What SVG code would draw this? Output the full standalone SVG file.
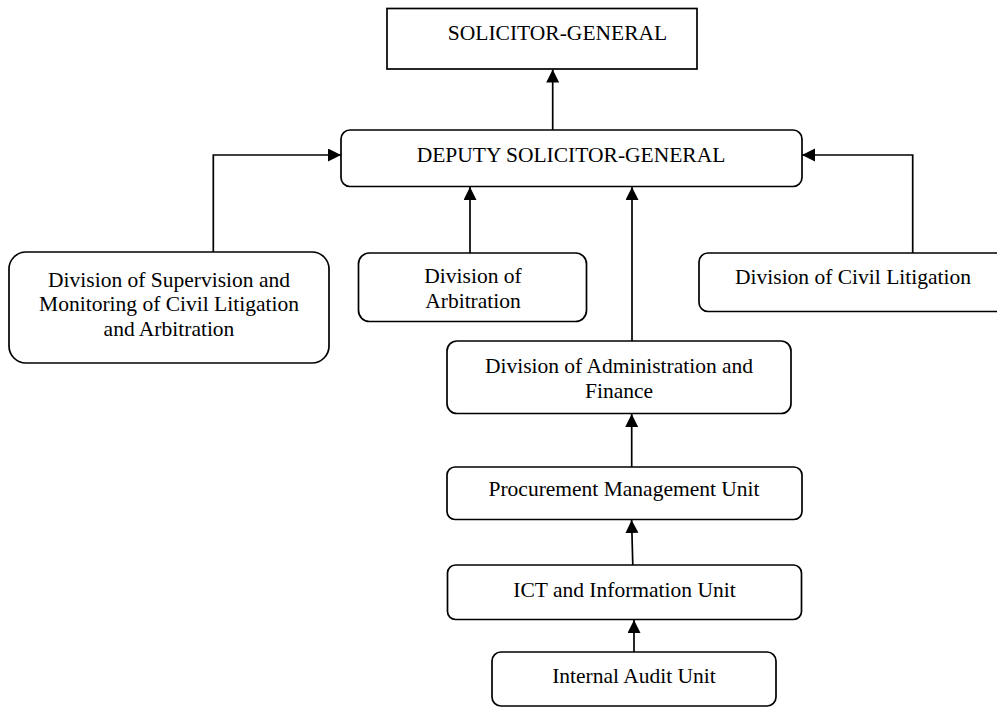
<svg xmlns="http://www.w3.org/2000/svg" width="997" height="709" viewBox="0 0 997 709">
<defs>
<marker id="ah" markerUnits="userSpaceOnUse" markerWidth="14" markerHeight="14" refX="13" refY="6.5" orient="auto">
<path d="M0,0 L13,6.5 L0,13 Z" fill="#000"/>
</marker>
<style>
rect{fill:#fff;stroke:#000;stroke-width:1.7}
text{font-family:"Liberation Serif","Times New Roman",serif;font-size:21.5px;fill:#000;text-anchor:middle}
.c path{fill:none;stroke:#000;stroke-width:1.7;marker-end:url(#ah)}
</style>
</defs>
<rect x="0" y="0" width="997" height="709" style="fill:#fff;stroke:none"/>
<g id="sg"><rect x="387" y="8.5" width="310" height="60.5"/><text x="557.5" y="39.5">SOLICITOR-GENERAL</text></g>
<g id="dsg"><rect x="341" y="130" width="461" height="56.5" rx="9"/><text x="571" y="161.5">DEPUTY SOLICITOR-GENERAL</text></g>
<g id="supervision"><rect x="9" y="252" width="320" height="111" rx="17"/><text x="169" y="286.5">Division of Supervision and</text><text x="169" y="311">Monitoring of Civil Litigation</text><text x="169" y="336">and Arbitration</text></g>
<g id="arbitration"><rect x="358.5" y="253" width="228" height="68.5" rx="11"/><text x="473" y="283">Division of</text><text x="473" y="308">Arbitration</text></g>
<g id="civil"><rect x="699" y="253" width="308" height="58.5" rx="9"/><text x="853" y="283.5">Division of Civil Litigation</text></g>
<g id="admin"><rect x="447" y="341" width="344" height="72.5" rx="10"/><text x="619" y="372.5">Division of Administration and</text><text x="619" y="397.5">Finance</text></g>
<g id="procurement"><rect x="447" y="467" width="355" height="52.5" rx="8"/><text x="624" y="496">Procurement Management Unit</text></g>
<g id="ict"><rect x="447.5" y="565" width="354" height="54.5" rx="8"/><text x="624.5" y="596.5">ICT and Information Unit</text></g>
<g id="audit"><rect x="492" y="652" width="284" height="54" rx="9"/><text x="634" y="683">Internal Audit Unit</text></g>
<g id="connectors" class="c">
<path d="M552.7 130 V69.5"/>
<path d="M213.3 252 V155 H341"/>
<path d="M470 253 V187"/>
<path d="M632 341 V187"/>
<path d="M912.7 253 V155 H802"/>
<path d="M631.7 467 V414"/>
<path d="M632.8 565 L631.6 520"/>
<path d="M634 652 V620"/>
</g>
</svg>
